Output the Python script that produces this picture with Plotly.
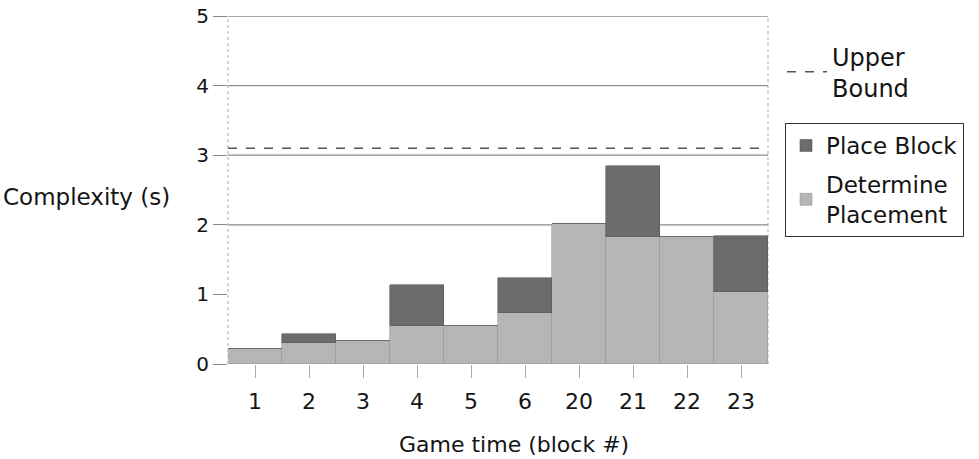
import plotly.graph_objects as go

categories = ["1", "2", "3", "4", "5", "6", "20", "21", "22", "23"]
determine_placement = [0.22, 0.30, 0.33, 0.54, 0.54, 0.74, 2.01, 1.83, 1.83, 1.04]
place_block = [0.0, 0.13, 0.0, 0.59, 0.0, 0.50, 0.0, 1.01, 0.0, 0.80]
upper_bound = 3.1
grid_values = [2, 3, 4, 5]
y_ticks = [0, 1, 2, 3, 4, 5]

FONT = "DejaVu Sans, Arial, sans-serif"
TXT = "#141414"

fig = go.Figure()
fig.add_trace(go.Bar(
    x=categories, y=determine_placement, name="Determine<br>Placement",
    marker=dict(color="#b6b6b6", line=dict(color="#9a9a9a", width=0.6)),
    legend="legend2", legendgroup="det", legendrank=2, showlegend=True,
))
fig.add_trace(go.Bar(
    x=categories, y=place_block, name="Place Block",
    marker=dict(color="#6c6c6c", line=dict(color="#5a5a5a", width=0.6)),
    legend="legend2", legendgroup="place", legendrank=1, showlegend=True,
))
fig.add_trace(go.Scatter(
    x=[0, 1], y=[upper_bound, upper_bound], xaxis="x2", mode="lines", name="Upper<br>Bound",
    line=dict(color="#555555", width=1.5, dash="dash"), legend="legend", showlegend=True,
    hoverinfo="skip",
))

shapes = []
for g in grid_values:
    shapes.append(dict(type="line", xref="paper", yref="y", x0=0, x1=1, y0=g, y1=g,
                       line=dict(color="#8a8a8a", width=1.3), layer="below"))
shapes.append(dict(type="line", xref="paper", yref="paper", x0=0, x1=0, y0=0, y1=1,
                   line=dict(color="#aaaaaa", width=1, dash="dot"), layer="below"))
shapes.append(dict(type="line", xref="paper", yref="paper", x0=1, x1=1, y0=0, y1=1,
                   line=dict(color="#aaaaaa", width=1, dash="dot"), layer="below"))

fig.update_layout(
    width=979, height=459,
    margin=dict(l=228, r=211, t=16, b=95, autoexpand=False),
    paper_bgcolor="white", plot_bgcolor="white",
    barmode="stack", bargap=0,
    font=dict(family=FONT, color=TXT),
    shapes=shapes,
    showlegend=True,
    xaxis=dict(
        type="category", showgrid=False, zeroline=False, showline=False,
        ticks="outside", ticklen=13, tickcolor="#aaaaaa", tickwidth=1,
        tickfont=dict(size=22, family=FONT, color=TXT),
        ticklabelstandoff=5,
    ),
    xaxis2=dict(range=[0, 1], overlaying="x", visible=False, fixedrange=True),
    yaxis=dict(
        range=[0, 5], tickvals=y_ticks, showgrid=False, zeroline=False, showline=False,
        ticks="outside", ticklen=14, tickcolor="#8a8a8a", tickwidth=1.3,
        tickfont=dict(size=20, family=FONT, color=TXT),
    ),
    legend=dict(
        x=1.026, y=0.948, xanchor="left", yanchor="top",
        font=dict(size=24, family=FONT, color=TXT),
        bgcolor="rgba(0,0,0,0)", borderwidth=0, itemwidth=40,
    ),
    legend2=dict(
        x=1.0315, y=0.6925, xanchor="left", yanchor="top",
        font=dict(size=23, family=FONT, color=TXT),
        bgcolor="white", bordercolor="#333333", borderwidth=1,
        tracegroupgap=6,
    ),
    annotations=[
        dict(text="Complexity (s)", xref="paper", yref="paper",
             x=-0.103, y=0.48, xanchor="right", yanchor="middle", showarrow=False,
             font=dict(size=23, family=FONT, color=TXT)),
        dict(text="Game time (block #)", xref="paper", yref="paper",
             x=0.53, y=-0.232, xanchor="center", yanchor="middle", showarrow=False,
             font=dict(size=22, family=FONT, color=TXT)),
    ],
)

fig.write_html("out.html")
